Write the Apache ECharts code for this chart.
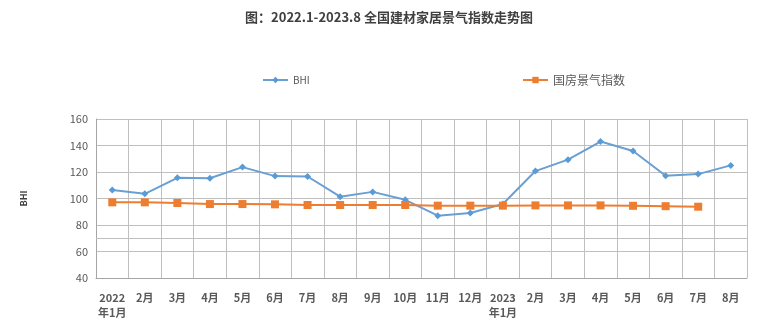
<!DOCTYPE html>
<html><head><meta charset="utf-8">
<script src="https://cdn.jsdelivr.net/npm/echarts@6/dist/echarts.min.js"></script>
<style>html,body{margin:0;padding:0;background:#fff}#c{width:778px;height:333px}</style>
</head><body><div id="c"></div>
<script>
const categories = ['2022\n年1月','2月','3月','4月','5月','6月','7月','8月','9月','10月','11月','12月','2023\n年1月','2月','3月','4月','5月','6月','7月','8月'];
const bhi = [106.5,103.5,115.6,115.3,123.7,116.9,116.6,101.4,105.0,99.0,87.0,89.0,95.8,120.7,129.3,143.0,135.9,117.2,118.4,125.0];
const housing = [97.1,97.1,96.6,95.8,95.8,95.6,95.1,95.1,95.1,95.1,94.6,94.6,94.6,94.8,94.8,94.8,94.5,94.2,93.8,null];
const yTicks = {min:40, max:160, interval:20};

const chart = echarts.init(document.getElementById('c'));
const fontFam = '"Noto Sans CJK SC", "Liberation Sans", sans-serif';
chart.setOption({
  animation:false,
  textStyle:{fontFamily:fontFam},
  title:{text:'图：2022.1-2023.8 全国建材家居景气指数走势图', left:'center', top:6,
    textStyle:{fontSize:13, fontWeight:'bold', color:'#404040', fontFamily:fontFam}},
  legend:[
    {data:['BHI'], left:257, top:70, itemWidth:25, itemHeight:8, textStyle:{fontSize:10,color:'#595959'}},
    {data:['国房景气指数'], left:517, top:69, itemWidth:25, itemHeight:8, textStyle:{fontSize:12,color:'#595959'}}
  ],
  grid:{left:96, right:31, top:119, bottom:55},
  xAxis:{type:'category', data:categories, boundaryGap:true,
    axisLine:{lineStyle:{color:'#a6a6a6'}}, axisTick:{show:false},
    splitLine:{show:true, lineStyle:{color:'#bfbfbf'}},
    axisLabel:{interval:0, fontSize:11, color:'#595959', fontWeight:'bold', margin:12, lineHeight:15}},
  yAxis:{type:'value', min:yTicks.min, max:yTicks.max, interval:yTicks.interval,
    name:'BHI', nameLocation:'middle', nameGap:68, nameRotate:90,
    nameTextStyle:{fontSize:9, fontWeight:'bold', color:'#404040'},
    axisLine:{show:true, lineStyle:{color:'#a6a6a6'}}, axisTick:{show:false},
    splitLine:{lineStyle:{color:'#bfbfbf'}},
    axisLabel:{fontSize:11, color:'#595959', margin:8}},
  series:[
    {name:'BHI', type:'line', data:bhi, symbol:'diamond', symbolSize:7,
      itemStyle:{color:'#5b9bd5'}, lineStyle:{color:'#6a9fd4', width:2},
      markLine:{silent:true, symbol:'none', label:{show:false},
        lineStyle:{color:'#bfbfbf', type:'solid', width:1}, data:[{yAxis:70}]}},
    {name:'国房景气指数', type:'line', data:housing, symbol:'rect', symbolSize:8,
      itemStyle:{color:'#ed7d31'}, lineStyle:{color:'#ed7d31', width:2}}
  ]
});
</script></body></html>
